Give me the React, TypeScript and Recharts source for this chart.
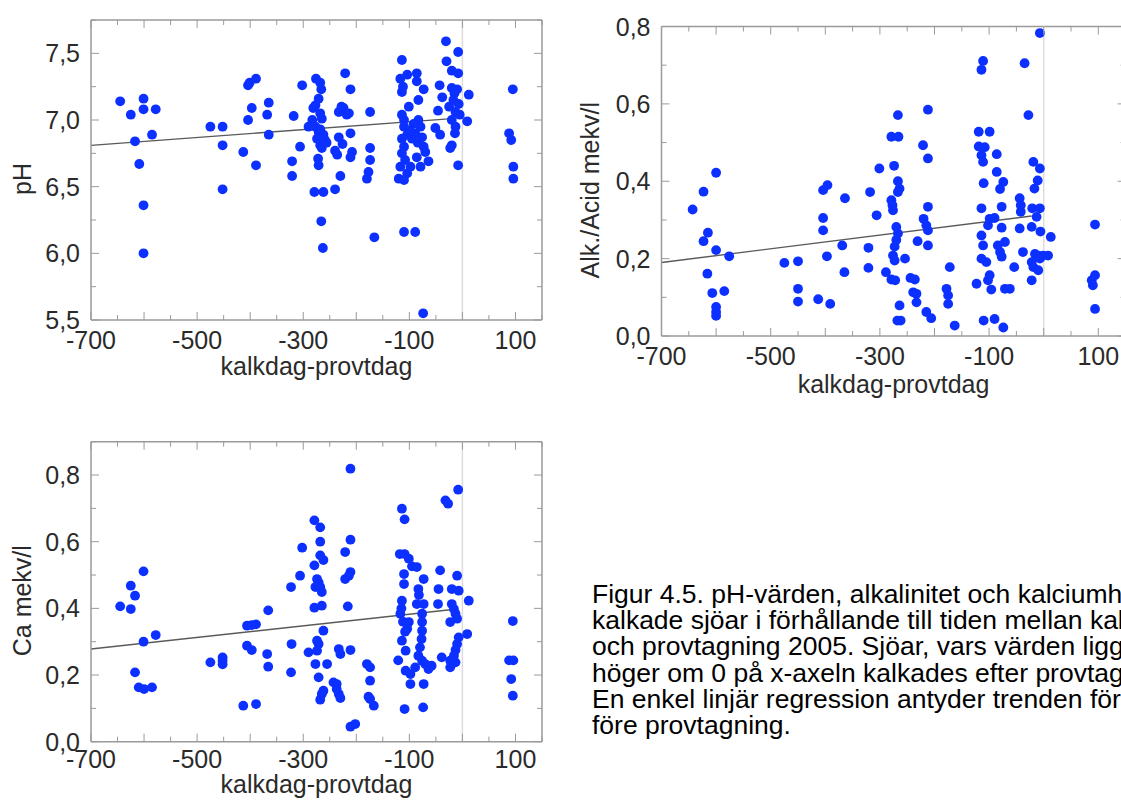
import React from 'react';
import { ScatterChart, Scatter, XAxis, YAxis, ReferenceLine } from 'recharts';

// [kalkdag-provtdag, value]
const phPoints: [number, number][] = [
  [-645, 7.14], [-625, 7.04], [-617, 6.84], [-609, 6.67], [-601, 7.16], [-601, 7.08], [-601, 6.36], [-601, 6.0],
  [-585, 6.89], [-578, 7.08], [-475, 6.95], [-452, 6.95], [-452, 6.81], [-452, 6.48], [-413, 6.76], [-404, 7.0],
  [-404, 7.26], [-401, 7.28], [-397, 7.09], [-389, 7.31], [-389, 6.66], [-365, 7.13], [-368, 7.04], [-365, 6.89],
  [-318, 7.03], [-321, 6.69], [-321, 6.58], [-306, 6.8], [-302, 7.26], [-290, 6.95],
  [-276, 7.31], [-268, 7.28], [-266, 7.23], [-271, 7.16], [-277, 7.11], [-281, 7.09], [-268, 7.05], [-265, 7.01],
  [-277, 6.95], [-271, 6.91], [-262, 6.89], [-274, 6.86], [-259, 6.85], [-268, 6.81], [-265, 6.79], [-272, 6.71],
  [-271, 6.66], [-279, 6.46], [-262, 6.46], [-266, 6.24], [-263, 6.04], [-283, 7.0], [-256, 6.83], [-268, 6.93],
  [-221, 7.35], [-211, 7.23], [-224, 7.09], [-233, 7.06], [-218, 7.04], [-211, 6.9], [-233, 6.87], [-240, 6.77],
  [-236, 6.74], [-208, 6.76], [-211, 6.72], [-230, 6.58], [-240, 6.48], [-228, 7.1], [-214, 7.05], [-226, 6.82],
  [-174, 7.06], [-174, 6.79], [-174, 6.7], [-177, 6.61], [-180, 6.56], [-166, 6.12],
  [-114, 7.45], [-117, 7.31], [-104, 7.34], [-86, 7.35], [-86, 7.29], [-73, 7.23], [-114, 7.21], [-83, 7.15],
  [-101, 7.1], [-114, 7.04], [-110, 7.0], [-110, 6.95], [-83, 7.0], [-79, 6.95], [-89, 6.9], [-104, 6.89],
  [-114, 6.86], [-95, 6.86], [-76, 6.87], [-110, 6.8], [-73, 6.8], [-114, 6.75], [-86, 6.72], [-70, 6.76],
  [-64, 6.69], [-79, 6.65], [-117, 6.65], [-98, 6.65], [-104, 6.6], [-120, 6.56], [-110, 6.55], [-110, 6.16],
  [-89, 6.16], [-74, 5.55], [-112, 7.25], [-92, 6.97], [-100, 6.92], [-84, 6.83], [-108, 6.7],
  [-31, 7.59], [-8, 7.51], [-30, 7.44], [-20, 7.37], [-8, 7.35], [-43, 7.26], [-20, 7.24], [-10, 7.23],
  [-38, 7.17], [12, 7.19], [-17, 7.15], [-7, 7.12], [-46, 7.07], [-13, 7.06], [-20, 7.0], [9, 6.99],
  [-51, 6.94], [-13, 6.95], [-42, 6.89], [-14, 6.9], [-20, 6.81], [-23, 6.79], [-8, 6.66], [-15, 7.2],
  [-5, 7.04], [-25, 7.1],
  [95, 7.23], [88, 6.9], [92, 6.85], [96, 6.65], [96, 6.56],
];

const alkPoints: [number, number][] = [
  [-643, 0.327], [-623, 0.373], [-600, 0.422], [-615, 0.267], [-623, 0.245], [-600, 0.222], [-576, 0.206],
  [-616, 0.161], [-607, 0.111], [-585, 0.116], [-600, 0.075], [-600, 0.062], [-600, 0.052],
  [-475, 0.189], [-450, 0.193], [-450, 0.122], [-450, 0.089], [-413, 0.095],
  [-404, 0.377], [-396, 0.39], [-404, 0.305], [-404, 0.273], [-397, 0.206], [-391, 0.083],
  [-364, 0.356], [-365, 0.165], [-369, 0.234],
  [-318, 0.372], [-321, 0.228], [-321, 0.176], [-306, 0.312], [-301, 0.433],
  [-289, 0.165], [-279, 0.146], [-272, 0.144], [-274, 0.44], [-279, 0.351], [-276, 0.325], [-277, 0.338],
  [-279, 0.515], [-266, 0.515], [-267, 0.571], [-267, 0.4], [-264, 0.381], [-267, 0.372], [-270, 0.282],
  [-267, 0.265], [-270, 0.248], [-273, 0.231], [-276, 0.208], [-273, 0.195], [-254, 0.2], [-264, 0.079],
  [-268, 0.04], [-262, 0.04],
  [-244, 0.15], [-236, 0.146], [-239, 0.113], [-233, 0.109], [-233, 0.087], [-231, 0.245],
  [-221, 0.493], [-212, 0.585], [-212, 0.459], [-212, 0.334], [-220, 0.303], [-215, 0.286], [-212, 0.273],
  [-212, 0.234], [-215, 0.062], [-206, 0.046],
  [-178, 0.122], [-175, 0.105], [-172, 0.178], [-175, 0.083], [-163, 0.027],
  [-123, 0.135], [-119, 0.528], [-99, 0.528], [-119, 0.49], [-108, 0.488], [-114, 0.467], [-86, 0.47],
  [-111, 0.45], [-110, 0.395], [-86, 0.424], [-74, 0.398], [-80, 0.38], [-114, 0.33], [-77, 0.334],
  [-99, 0.303], [-90, 0.305], [-102, 0.286], [-114, 0.26], [-77, 0.28], [-111, 0.234], [-114, 0.2],
  [-105, 0.191], [-84, 0.234], [-80, 0.217], [-77, 0.205], [-71, 0.243], [-99, 0.157], [-102, 0.144],
  [-96, 0.12], [-110, 0.04], [-90, 0.044], [-74, 0.022], [-71, 0.122], [-62, 0.122], [-111, 0.711], [-114, 0.688],
  [-54, 0.178], [-44, 0.356], [-42, 0.338], [-42, 0.321], [-44, 0.278], [-38, 0.217], [-22, 0.144],
  [-35, 0.705], [-28, 0.571], [-19, 0.45], [-7, 0.433], [-11, 0.402], [-17, 0.381], [-21, 0.33], [-7, 0.33],
  [-13, 0.308], [-22, 0.282], [-6, 0.27], [-16, 0.212], [-10, 0.208], [-1, 0.208], [8, 0.208], [-7, 0.2],
  [-22, 0.191], [-19, 0.178], [-10, 0.17], [-7, 0.783], [13, 0.256],
  [94, 0.288], [88, 0.144], [94, 0.157], [90, 0.131], [94, 0.07],
];

const caPoints: [number, number][] = [
  [-645, 0.406], [-625, 0.398], [-625, 0.468], [-617, 0.438], [-601, 0.511], [-601, 0.3], [-578, 0.32],
  [-617, 0.208], [-610, 0.163], [-600, 0.158], [-585, 0.163],
  [-475, 0.238], [-452, 0.253], [-452, 0.243], [-452, 0.232], [-413, 0.108], [-389, 0.113],
  [-406, 0.348], [-397, 0.35], [-389, 0.352], [-406, 0.288], [-397, 0.275],
  [-366, 0.394], [-368, 0.263], [-366, 0.225],
  [-323, 0.464], [-322, 0.293], [-323, 0.208], [-306, 0.498], [-302, 0.582], [-290, 0.268],
  [-279, 0.664], [-268, 0.643], [-268, 0.6], [-279, 0.529], [-268, 0.559], [-262, 0.545], [-274, 0.488],
  [-271, 0.478], [-277, 0.464], [-268, 0.464], [-265, 0.449], [-279, 0.402], [-265, 0.408], [-262, 0.333],
  [-274, 0.303], [-271, 0.293], [-274, 0.273], [-277, 0.233], [-255, 0.233], [-271, 0.193], [-262, 0.153],
  [-265, 0.143], [-268, 0.126],
  [-243, 0.178], [-237, 0.173], [-237, 0.158], [-233, 0.143], [-230, 0.131], [-233, 0.278], [-230, 0.263],
  [-211, 0.275], [-211, 0.606], [-221, 0.569], [-211, 0.509], [-214, 0.498], [-221, 0.488], [-216, 0.406],
  [-211, 0.819], [-211, 0.045], [-202, 0.053],
  [-180, 0.233], [-174, 0.223], [-174, 0.183], [-177, 0.135], [-174, 0.128], [-167, 0.108],
  [-114, 0.699], [-109, 0.667], [-118, 0.563], [-109, 0.563], [-101, 0.549], [-95, 0.526], [-86, 0.524],
  [-110, 0.503], [-110, 0.473], [-73, 0.488], [-83, 0.458], [-114, 0.423], [-86, 0.413], [-73, 0.413],
  [-117, 0.384], [-101, 0.359], [-104, 0.339], [-76, 0.384], [-76, 0.359], [-76, 0.333], [-114, 0.303],
  [-77, 0.308], [-107, 0.273], [-80, 0.283], [-83, 0.258], [-121, 0.244], [-76, 0.243], [-70, 0.233],
  [-64, 0.218], [-58, 0.228], [-107, 0.213], [-89, 0.223], [-98, 0.203], [-98, 0.173], [-73, 0.173],
  [-109, 0.098], [-74, 0.103], [-112, 0.36], [-108, 0.33], [-115, 0.4], [-82, 0.44],
  [-42, 0.514], [-10, 0.498], [-45, 0.458], [-20, 0.458], [-7, 0.453], [-46, 0.413], [-20, 0.413], [12, 0.423],
  [-16, 0.398], [-13, 0.384], [-23, 0.359], [-10, 0.369], [9, 0.323], [-7, 0.313], [-10, 0.293], [-13, 0.275],
  [-16, 0.258], [-39, 0.253], [-23, 0.243], [-13, 0.238], [-23, 0.223], [-32, 0.724], [-27, 0.714], [-8, 0.756],
  [95, 0.362], [88, 0.244], [96, 0.244], [92, 0.188], [95, 0.138],
];

// regression lines (start, end)
const phTrend: [number, number][] = [[-700, 6.81], [-20, 7.01]];
const alkTrend: [number, number][] = [[-700, 0.19], [-22, 0.31]];
const caTrend: [number, number][] = [[-700, 0.278], [-23, 0.396]];

const xTicks = [-700, -650, -600, -550, -500, -450, -400, -350, -300, -250, -200, -150, -100, -50, 0, 50, 100, 150];
const xLabels = [-700, -500, -300, -100, 100];
const phTicks = [5.5, 5.75, 6, 6.25, 6.5, 6.75, 7, 7.25, 7.5, 7.75];
const phLabels = [5.5, 6, 6.5, 7, 7.5];
const alkTicks = [0, 0.1, 0.2, 0.3, 0.4, 0.5, 0.6, 0.7, 0.8];
const alkLabels = [0, 0.2, 0.4, 0.6, 0.8];
const caTicks = [0, 0.1, 0.2, 0.3, 0.4, 0.5, 0.6, 0.7, 0.8, 0.9];
const caLabels = [0, 0.2, 0.4, 0.6, 0.8];

const captionLines = [
  'Figur 4.5. pH-värden, alkalinitet och kalciumhalt i',
  'kalkade sjöar i förhållande till tiden mellan kalkning',
  'och provtagning 2005. Sjöar, vars värden ligger till',
  'höger om 0 på x-axeln kalkades efter provtagningen.',
  'En enkel linjär regression antyder trenden för sjöar',
  'före provtagning.',
];

const FONT = '"Liberation Sans", Arial, Helvetica, sans-serif';
const DOT = '#0c30ff';
const FRAME = '#9a9a9a';
const TEXT = '#2a2a2a';

const has = (list: number[], v: number) => list.some((l) => Math.abs(l - v) < 1e-9);
const comma = (v: number) => v.toFixed(1).replace('.', ',');

interface PanelProps {
  left: number;
  top: number;
  width: number;
  height: number;
  marginTop: number;
  marginRight: number;
  yWidth: number;
  xHeight: number;
  yDomain: [number, number];
  yTicks: number[];
  yLabels: number[];
  points: [number, number][];
  trend: [number, number][];
  yTitle: string;
  yTitleX: number;
  xTickY: number;
  xTitleY: number;
}

const Panel: React.FC<PanelProps> = (p) => {
  const plotW = p.width - p.marginRight - p.yWidth;
  const plotH = p.height - p.marginTop - p.xHeight;
  const data = p.points.map(([x, y]) => ({ x, y }));

  const xTick = (t: any) => {
    const { x, y, payload } = t;
    const v = payload.value;
    const len = v % 100 === 0 ? 8 : 5;
    return (
      <g>
        <line x1={x} y1={y} x2={x} y2={y - len} stroke={FRAME} />
        <line x1={x} y1={y - plotH} x2={x} y2={y - plotH + len} stroke={FRAME} />
        {has(xLabels, v) && (
          <text x={x} y={y + p.xTickY} textAnchor="middle" fontSize={25} fontFamily={FONT} fill={TEXT}>
            {v}
          </text>
        )}
      </g>
    );
  };

  const yTick = (t: any) => {
    const { x, y, payload } = t;
    const v = payload.value;
    const len = has(p.yLabels, v) ? 8 : 5;
    return (
      <g>
        <line x1={x} y1={y} x2={x + len} y2={y} stroke={FRAME} />
        <line x1={x + plotW} y1={y} x2={x + plotW - len} y2={y} stroke={FRAME} />
        {has(p.yLabels, v) && (
          <text x={x - 11} y={y + 9} textAnchor="end" fontSize={25} fontFamily={FONT} fill={TEXT}>
            {comma(v)}
          </text>
        )}
      </g>
    );
  };

  const xTitle = (lp: any) => {
    const vb = lp.viewBox || {};
    return (
      <text x={vb.x + vb.width / 2} y={vb.y + p.xTitleY} textAnchor="middle" fontSize={25} fontFamily={FONT} fill={TEXT}>
        kalkdag-provtdag
      </text>
    );
  };

  const yTitle = (lp: any) => {
    const vb = lp.viewBox || {};
    const cx = vb.x + p.yTitleX;
    const cy = vb.y + vb.height / 2 + 9;
    return (
      <text x={cx} y={cy} transform={`rotate(-90, ${cx}, ${cy})`} textAnchor="middle" fontSize={25} fontFamily={FONT} fill={TEXT}>
        {p.yTitle}
      </text>
    );
  };

  return (
    <div style={{ position: 'absolute', left: p.left, top: p.top }}>
      <ScatterChart
        width={p.width}
        height={p.height}
        margin={{ top: p.marginTop, right: p.marginRight, bottom: 0, left: 0 }}
      >
        <XAxis
          type="number"
          dataKey="x"
          domain={[-700, 150]}
          allowDataOverflow
          ticks={xTicks}
          interval={0}
          tickSize={0}
          tickMargin={0}
          tickLine={false}
          height={p.xHeight}
          axisLine={{ stroke: FRAME, strokeWidth: 1.5 }}
          tick={xTick}
          label={xTitle}
        />
        <YAxis
          type="number"
          dataKey="y"
          domain={p.yDomain}
          allowDataOverflow
          ticks={p.yTicks}
          interval={0}
          tickSize={0}
          tickMargin={0}
          tickLine={false}
          width={p.yWidth}
          axisLine={{ stroke: FRAME, strokeWidth: 1.5 }}
          tick={yTick}
          label={yTitle}
        />
        <ReferenceLine y={p.yDomain[1]} stroke={FRAME} strokeWidth={1.5} />
        <ReferenceLine x={150} stroke={FRAME} strokeWidth={1.5} />
        <ReferenceLine x={0} stroke="#dcdcdc" strokeWidth={1.5} />
        <Scatter
          data={data}
          isAnimationActive={false}
          shape={(s: any) => <circle cx={s.cx} cy={s.cy} r={4.9} fill={DOT} />}
        />
        <ReferenceLine
          segment={p.trend.map(([x, y]) => ({ x, y }))}
          stroke="#5a5a5a"
          strokeWidth={1.4}
        />
      </ScatterChart>
    </div>
  );
};

export default function App() {
  return (
    <div
      style={{
        position: 'absolute',
        left: 0,
        top: 0,
        width: 1121,
        height: 801,
        overflow: 'hidden',
        background: '#fff',
        fontFamily: FONT,
      }}
    >
      <Panel
        left={0}
        top={0}
        width={560}
        height={390}
        marginTop={20}
        marginRight={18}
        yWidth={91}
        xHeight={70}
        yDomain={[5.5, 7.75]}
        yTicks={phTicks}
        yLabels={phLabels}
        points={phPoints}
        trend={phTrend}
        yTitle="pH"
        yTitleX={31}
        xTickY={29}
        xTitleY={55}
      />
      <Panel
        left={560}
        top={0}
        width={580}
        height={406}
        marginTop={26.5}
        marginRight={14.4}
        yWidth={101.5}
        xHeight={70}
        yDomain={[0, 0.8]}
        yTicks={alkTicks}
        yLabels={alkLabels}
        points={alkPoints}
        trend={alkTrend}
        yTitle="Alk./Acid mekv/l"
        yTitleX={39}
        xTickY={29}
        xTitleY={57}
      />
      <Panel
        left={0}
        top={420}
        width={560}
        height={390}
        marginTop={21.7}
        marginRight={18}
        yWidth={91}
        xHeight={68.3}
        yDomain={[0, 0.9]}
        yTicks={caTicks}
        yLabels={caLabels}
        points={caPoints}
        trend={caTrend}
        yTitle="Ca mekv/l"
        yTitleX={31}
        xTickY={26}
        xTitleY={51}
      />
      <div
        style={{
          position: 'absolute',
          left: 592,
          top: 581,
          fontSize: 26.5,
          lineHeight: '26.2px',
          whiteSpace: 'pre',
          color: '#000',
          fontFamily: FONT,
        }}
      >
        {captionLines.join('\n')}
      </div>
    </div>
  );
}
